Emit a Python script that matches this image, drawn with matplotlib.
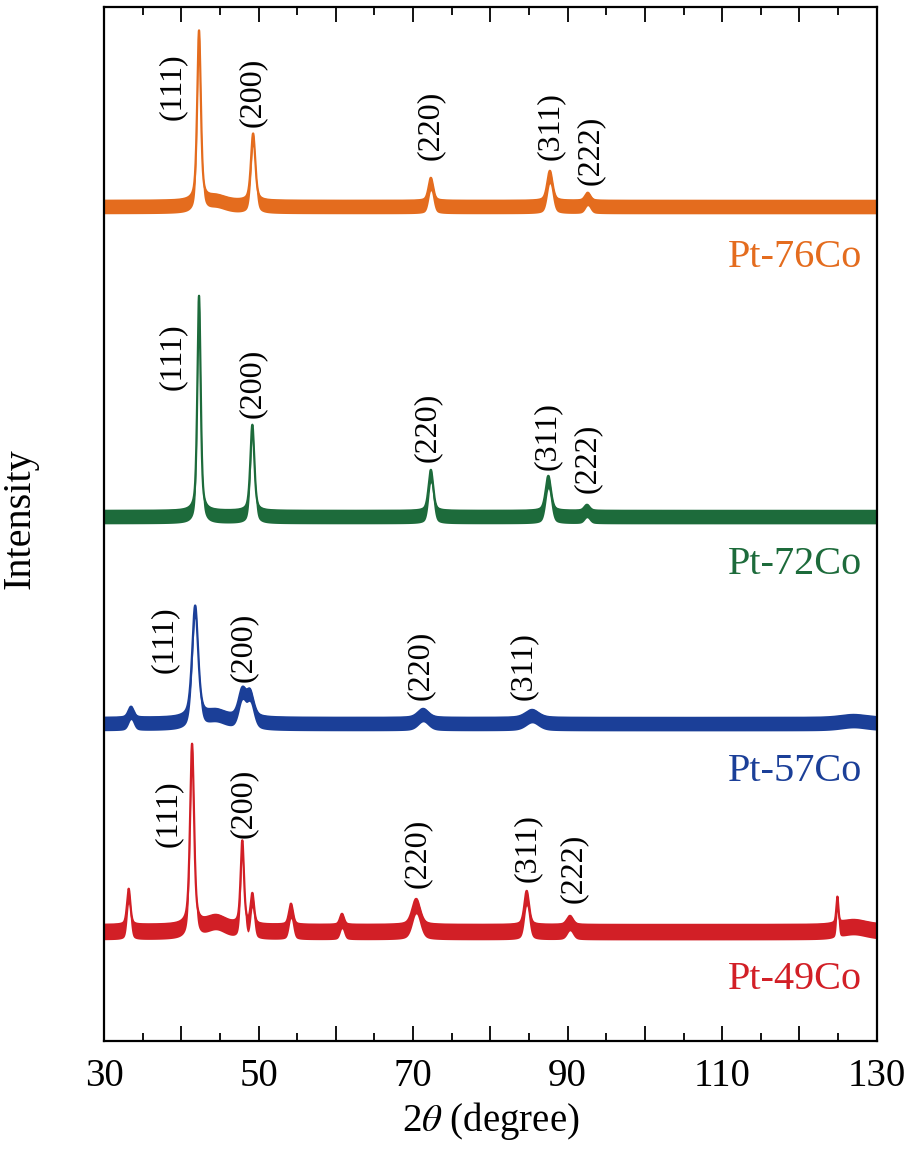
import numpy as np
import matplotlib
matplotlib.use("Agg")
import matplotlib.pyplot as plt
from matplotlib.ticker import MultipleLocator, FuncFormatter

plt.rcParams['font.family'] = ['Liberation Serif', 'DejaVu Serif']
plt.rcParams['mathtext.fontset'] = 'stix'

# Samples, top to bottom
samples = ['Pt-76Co', 'Pt-72Co', 'Pt-57Co', 'Pt-49Co']
colors = ['#E46C1E', '#1D6B3B', '#1B3F98', '#D21F26']
offsets = [834, 524, 317, 109]  # vertical stacking of the patterns

# Peaks: 2theta (deg), height above baseline, FWHM (deg)
peak_pos = [
    [42.3, 44.5, 49.3, 72.3, 87.7, 92.6],
    [42.3, 49.2, 72.3, 87.5, 92.5],
    [33.5, 41.8, 44.5, 47.9, 48.9, 71.3, 85.4, 127.0],
    [33.2, 41.4, 44.5, 47.9, 49.2, 54.2, 60.8, 70.4, 84.7, 90.3, 124.9, 127.0],
]
peak_height = [
    [169, 5, 67, 23, 30, 8],
    [215, 86, 41, 35, 6],
    [11, 111, 7, 26, 24, 9, 8, 3],
    [36, 180, 9, 83, 30, 21, 11, 26, 34, 9, 26, 5],
]
peak_width = [
    [0.55, 3.0, 0.65, 0.7, 0.8, 0.8],
    [0.5, 0.6, 0.7, 0.8, 0.8],
    [0.8, 0.9, 3.0, 1.1, 1.1, 1.6, 2.0, 4.0],
    [0.5, 0.6, 3.0, 0.5, 0.5, 0.6, 0.6, 1.2, 0.7, 0.9, 0.3, 4.0],
]
noise_band = [(7, 7), (7, 7), (7, 7), (8, 8)]  # below / above the baseline

# hkl annotations: text, 2theta position, bottom of the label
hkl_text = [
    ['(111)', '(200)', '(220)', '(311)', '(222)'],
    ['(111)', '(200)', '(220)', '(311)', '(222)'],
    ['(111)', '(200)', '(220)', '(311)'],
    ['(111)', '(200)', '(220)', '(311)', '(222)'],
]
hkl_x = [
    [38.9, 49.15, 72.2, 87.8, 92.9],
    [38.9, 49.15, 71.9, 87.4, 92.6],
    [37.8, 48.1, 71.0, 84.3],
    [38.3, 48.1, 70.6, 84.85, 90.8],
]
hkl_y = [
    [921, 914, 881, 881, 856],
    [651, 623, 579, 571, 548],
    [368, 359, 341, 341],
    [194, 203, 153, 159, 138],
]
label_y = [783, 476, 269, 61]

two_theta = np.linspace(30, 130, 4000)


def pseudo_voigt(x, x0, h, w, eta=0.5):
    g = np.exp(-4 * np.log(2) * ((x - x0) / w) ** 2)
    l = 1.0 / (1 + 4 * ((x - x0) / w) ** 2)
    return h * (eta * l + (1 - eta) * g)


fig = plt.figure(figsize=(9.2, 11.51), dpi=100)
ax = fig.add_axes([0.113, 0.0956, 0.840, 0.8985])

for i, name in enumerate(samples):
    profile = np.zeros_like(two_theta)
    for x0, h, w in zip(peak_pos[i], peak_height[i], peak_width[i]):
        profile += pseudo_voigt(two_theta, x0, h, w)
    lo, hi = noise_band[i]
    base = offsets[i] + profile
    ax.fill_between(two_theta, base - lo, base + hi, color=colors[i], lw=0)
    ax.plot(two_theta, base + hi - 1, color=colors[i], lw=1.6)

    for t, tx, ty in zip(hkl_text[i], hkl_x[i], hkl_y[i]):
        ax.text(tx, ty, t, rotation=90, ha='center', va='bottom', fontsize=23)
    ax.text(128.1, label_y[i], name, color=colors[i], ha='right',
            va='center', fontsize=29)

ax.set_xlim(30, 130)
ax.set_ylim(0, 1034)
ax.set_yticks([])
ax.xaxis.set_major_locator(MultipleLocator(10))
ax.xaxis.set_minor_locator(MultipleLocator(5))
ax.xaxis.set_major_formatter(FuncFormatter(
    lambda v, p: f'{v:.0f}' if round(v) % 20 == 10 else ''))
ax.tick_params(axis='x', which='both', direction='in', top=True,
               labelsize=28, pad=12, width=1.3)
ax.tick_params(axis='x', which='major', length=11)
ax.tick_params(axis='x', which='minor', length=6)
for s in ax.spines.values():
    s.set_linewidth(1.6)

ax.set_xlabel(r'2$\theta$ (degree)', fontsize=28, labelpad=4)
ax.set_ylabel('Intensity', fontsize=29)
ax.yaxis.set_label_coords(-0.085, 0.505)

fig.savefig('out.png', dpi=100)
